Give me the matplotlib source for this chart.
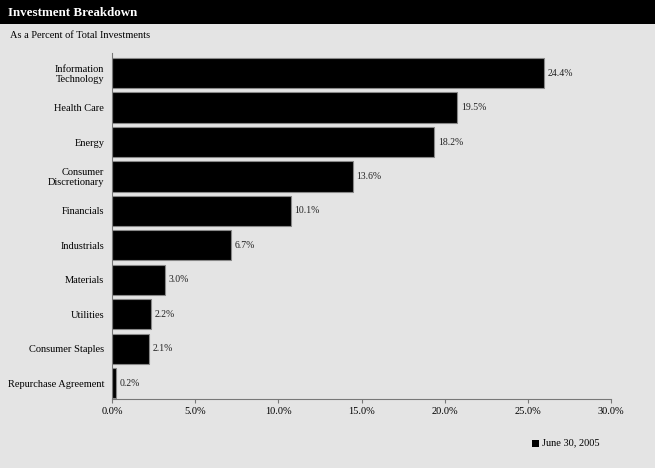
import matplotlib.pyplot as plt
from matplotlib.patches import Rectangle

categories = ["Information\nTechnology", "Health Care", "Energy", "Consumer\nDiscretionary",
              "Financials", "Industrials", "Materials", "Utilities", "Consumer Staples",
              "Repurchase Agreement"]
values = [24.4, 19.5, 18.2, 13.6, 10.1, 6.7, 3.0, 2.2, 2.1, 0.2]
ticks = [0, 5, 10, 15, 20, 25, 30]
series_name = "June 30, 2005"

plt.rcParams["font.family"] = ["Liberation Serif", "DejaVu Serif"]
bg = "#e4e4e4"

fig = plt.figure(figsize=(6.55, 4.68), dpi=100, facecolor=bg)

# black title band
fig.patches.append(Rectangle((0, 1 - 24 / 468), 1, 24 / 468, transform=fig.transFigure,
                             facecolor="black", edgecolor="none", zorder=0))
fig.text(8 / 655, 1 - 12.5 / 468, "Investment Breakdown", color="white", fontsize=9.4,
         fontweight="bold", va="center", ha="left")
fig.text(10 / 655, 1 - 35 / 468, "As a Percent of Total Investments", color="black",
         fontsize=7.5, va="center", ha="left")

rect = [112 / 655, 1 - 399 / 468, 499 / 655, 346 / 468]
ax = fig.add_axes(rect)
ax.set_facecolor(bg)
y = list(range(len(categories)))
ax.barh(y, values, height=0.87, color="black", edgecolor="#888888", linewidth=0.8)
for yi, v in zip(y, values):
    ax.text(v + 0.22, yi, f"{v:.1f}%", va="center", ha="left", fontsize=7, color="#222222")

# the original draws bars on a slightly stretched scale vs. its tick axis
ax.set_xlim(0, 28.2)
ax.set_ylim(9.45, -0.58)
ax.set_yticks(y)
ax.set_yticklabels(categories, fontsize=7.5, linespacing=1.1)
ax.set_xticks([])
ax.tick_params(axis="y", length=0, pad=5.5)
for s in ["top", "right"]:
    ax.spines[s].set_visible(False)
for s in ["left", "bottom"]:
    ax.spines[s].set_color("#777777")
    ax.spines[s].set_linewidth(0.8)

# tick axis
tax = fig.add_axes(rect, frameon=False)
tax.patch.set_visible(False)
tax.set_xlim(0, 30)
tax.set_xticks(ticks)
tax.set_xticklabels([f"{t:.1f}%" for t in ticks], fontsize=7.5)
tax.set_yticks([])
tax.tick_params(axis="x", length=3, color="#777777", pad=3)

# legend
fig.patches.append(Rectangle((532 / 655, 1 - 447 / 468), 7 / 655, 7 / 468,
                             transform=fig.transFigure, facecolor="black", edgecolor="none"))
fig.text(542 / 655, 1 - 443 / 468, series_name, fontsize=7.5, va="center", ha="left")

fig.savefig("out.png", dpi=100, facecolor=bg)
